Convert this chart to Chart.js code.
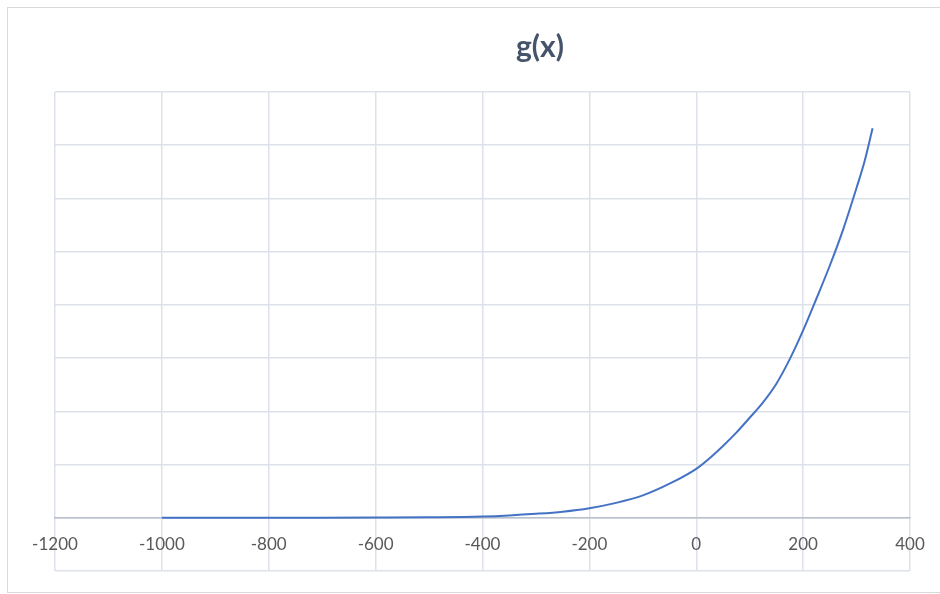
<!DOCTYPE html>
<html>
<head>
<meta charset="utf-8">
<script src="https://cdn.jsdelivr.net/npm/chart.js@4.4.1/dist/chart.umd.min.js"></script>
<style>
  html, body { margin: 0; padding: 0; background: #ffffff; overflow: hidden; }
  #frame { position: absolute; left: 7px; top: 7px; width: 1100px; height: 586px; border: 1px solid #d9d9d9; border-right: none; box-sizing: border-box; background: #fff; }
  #wrap { position: absolute; left: 0px; top: 0px; width: 1064px; height: 584px; }
</style>
</head>
<body>
<div id="frame"><div id="wrap"><canvas id="c" width="1064" height="584"></canvas></div></div>
<script>
const chartTitle = "g(x)";
const xValues = [-1000, -900, -800, -700, -600, -500, -400, -350, -300, -250, -200, -150, -100, -50, 0, 25, 50, 75, 100, 125, 150, 175, 200, 225, 250, 275, 300, 315, 330];
const gValues = [0.0, 0.0, 0.0, 0.001, 0.004, 0.01, 0.025, 0.045, 0.075, 0.115, 0.18, 0.28, 0.42, 0.64, 0.92, 1.12, 1.35, 1.60, 1.88, 2.17, 2.52, 2.98, 3.52, 4.12, 4.74, 5.42, 6.20, 6.70, 7.32];
const xTickMin = -1200, xTickMax = 400, xTickStep = 200;
const yMin = -1, yMax = 8, yStep = 1;

const points = xValues.map((x, i) => ({ x: x, y: gValues[i] }));

new Chart(document.getElementById('c'), {
  type: 'scatter',
  data: {
    datasets: [{
      data: points,
      showLine: true,
      borderColor: '#4472C4',
      backgroundColor: '#4472C4',
      borderWidth: 2,
      pointRadius: 0,
      cubicInterpolationMode: 'monotone',
      fill: false
    }]
  },
  options: {
    responsive: false,
    animation: false,
    devicePixelRatio: 1,
    layout: { padding: { left: 0, right: 0, top: 0, bottom: 21 } },
    plugins: {
      legend: { display: false },
      tooltip: { enabled: false },
      title: {
        display: true,
        text: chartTitle,
        color: '#44546A',
        font: { family: 'Lato, "Open Sans", sans-serif', size: 30, weight: 'bold' },
        padding: { top: 21, bottom: 27 }
      }
    },
    scales: {
      x: {
        type: 'linear',
        position: { y: 0 },
        min: xTickMin,
        max: xTickMax,
        ticks: {
          stepSize: xTickStep,
          color: '#595959',
          font: { family: 'Lato, "Open Sans", sans-serif', size: 17 },
          padding: 17,
          maxRotation: 0,
          callback: v => String(v)
        },
        grid: { color: '#dde2ea', lineWidth: 1.5, drawTicks: false },
        border: { display: true, color: '#b8bfca', width: 1.5 }
      },
      y: {
        min: yMin,
        max: yMax,
        ticks: { display: false, stepSize: yStep },
        grid: { color: '#dde2ea', lineWidth: 1.5, drawTicks: false },
        border: { display: false },
        afterFit: s => { s.width = 47; }
      },
      spacer: {
        position: 'right',
        display: true,
        ticks: { display: false },
        grid: { display: false, drawTicks: false },
        border: { display: false },
        afterFit: s => { s.width = 162; }
      }
    }
  }
});
</script>
</body>
</html>
